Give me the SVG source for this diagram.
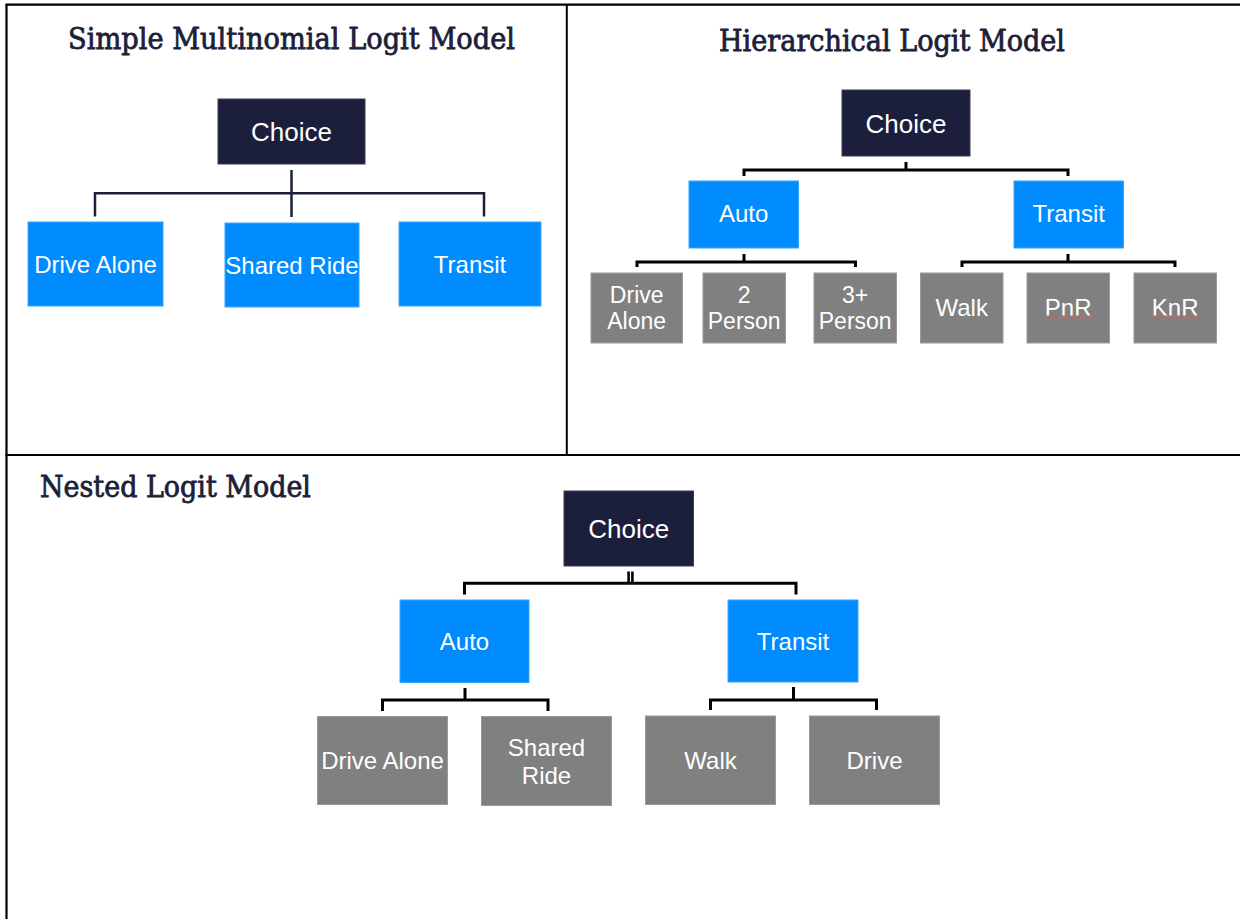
<svg xmlns="http://www.w3.org/2000/svg" width="1240" height="919" viewBox="0 0 1240 919">
<style>
.title{font-family:"DejaVu Serif","Liberation Serif",serif;font-size:29px;fill:#1c2039;stroke:#1c2039;stroke-width:0.8}
.lbl{font-family:"Liberation Sans",Arial,sans-serif;fill:#ffffff;text-anchor:middle}
.dark{fill:#1c1f3b;stroke:#3a3d55;stroke-width:1}
.blue{fill:#008cff;stroke:#3aa5ff;stroke-width:1}
.gray{fill:#808080;stroke:#9a9a9a;stroke-width:1}
.frame{stroke:#000;fill:none}
.cn{fill:none;stroke:#000;stroke-width:3}
.cnav{fill:none;stroke:#1c2039;stroke-width:2.5}
.spell{stroke:#e05a5a;stroke-width:1;fill:none}
</style>
<rect width="1240" height="919" fill="#ffffff"/>
<g id="frame">
<line class="frame" x1="5.5" y1="4.7" x2="1240" y2="4.7" stroke-width="2.2"/>
<line class="frame" x1="6.5" y1="4" x2="6.5" y2="919" stroke-width="2.2"/>
<line class="frame" x1="5.5" y1="455" x2="1240" y2="455" stroke-width="2.2"/>
<line class="frame" x1="566.8" y1="4" x2="566.8" y2="455" stroke-width="2"/>
</g>
<g id="titles">
<text class="title" x="68" y="48.5" textLength="447" lengthAdjust="spacingAndGlyphs">Simple Multinomial Logit Model</text>
<text class="title" x="719" y="50.5" textLength="346" lengthAdjust="spacingAndGlyphs">Hierarchical Logit Model</text>
<text class="title" x="40" y="496.5" textLength="271" lengthAdjust="spacingAndGlyphs">Nested Logit Model</text>
</g>
<g id="connectors">
<path class="cnav" d="M291.5 170 V217 M95 216.5 V193.3 H484 V216.5"/>
<path class="cn" d="M906 162 V170 M744 176 V170 H1068 V176"/>
<path class="cn" d="M744 254 V262 M637 267 V262 H855.5 V267"/>
<path class="cn" d="M1068 254 V262 M962 267 V262 H1175 V267"/>
<path class="cn" stroke-width="2.5" d="M464.5 594.5 V583.3 H796 V594.5"/>
<line x1="628.6" y1="571.5" x2="628.6" y2="583" stroke="#000" stroke-width="2.6"/>
<line x1="632.4" y1="571.5" x2="632.4" y2="583" stroke="#000" stroke-width="2.6"/>
<path class="cn" stroke-width="2.5" d="M465 688 V700 M382.5 711 V700 H548 V711"/>
<path class="cn" stroke-width="2.5" d="M793.5 687 V700 M710.5 710 V700 H876.5 V710"/>
</g>
<g id="mnl-choice"><rect class="dark" x="218" y="99" width="147" height="65"/><text class="lbl" x="291.5" y="141" font-size="26">Choice</text></g>
<g id="mnl-drive-alone"><rect class="blue" x="28" y="222" width="135" height="84"/><text class="lbl" x="95.5" y="272.5" font-size="24">Drive Alone</text></g>
<g id="mnl-shared-ride"><rect class="blue" x="225" y="223" width="134" height="84"/><text class="lbl" x="292" y="273.5" font-size="24">Shared Ride</text></g>
<g id="mnl-transit"><rect class="blue" x="399" y="222" width="142" height="84"/><text class="lbl" x="470" y="272.5" font-size="24">Transit</text></g>

<g id="hl-choice"><rect class="dark" x="842" y="90" width="128" height="66"/><text class="lbl" x="906" y="132.5" font-size="26">Choice</text></g>
<g id="hl-auto"><rect class="blue" x="689" y="181" width="109.5" height="67"/><text class="lbl" x="743.7" y="222" font-size="24">Auto</text></g>
<g id="hl-transit"><rect class="blue" x="1014" y="181" width="109.5" height="67"/><text class="lbl" x="1068.7" y="222" font-size="24">Transit</text></g>
<g id="hl-drive-alone"><rect class="gray" x="591" y="273" width="91.5" height="70"/><text class="lbl" font-size="23"><tspan x="636.7" y="303">Drive</tspan><tspan x="636.7" y="329">Alone</tspan></text></g>
<g id="hl-2-person"><rect class="gray" x="703" y="273" width="82.5" height="70"/><text class="lbl" font-size="23"><tspan x="744.2" y="303">2</tspan><tspan x="744.2" y="329">Person</tspan></text></g>
<g id="hl-3-person"><rect class="gray" x="814" y="273" width="82.5" height="70"/><text class="lbl" font-size="23"><tspan x="855.2" y="303">3+</tspan><tspan x="855.2" y="329">Person</tspan></text></g>
<g id="hl-walk"><rect class="gray" x="920.5" y="273" width="82.5" height="70"/><text class="lbl" x="961.7" y="315.5" font-size="24">Walk</text></g>
<g id="hl-pnr"><rect class="gray" x="1027" y="273" width="82.5" height="70"/><text class="lbl" x="1068.2" y="315.5" font-size="24">PnR</text><path class="spell" d="M1045 316 H1093"/></g>
<g id="hl-knr"><rect class="gray" x="1134" y="273" width="82.5" height="70"/><text class="lbl" x="1175.2" y="315.5" font-size="24">KnR</text><path class="spell" d="M1152 316 H1199"/></g>

<g id="nl-choice"><rect class="dark" x="564" y="491" width="129.5" height="75"/><text class="lbl" x="628.7" y="538" font-size="26">Choice</text></g>
<g id="nl-auto"><rect class="blue" x="400" y="600" width="129" height="82.5"/><text class="lbl" x="464.5" y="650" font-size="24">Auto</text></g>
<g id="nl-transit"><rect class="blue" x="728" y="600" width="130" height="82"/><text class="lbl" x="793" y="650" font-size="24">Transit</text></g>
<g id="nl-drive-alone"><rect class="gray" x="317.5" y="716.5" width="130" height="88"/><text class="lbl" x="382.5" y="769" font-size="24">Drive Alone</text></g>
<g id="nl-shared-ride"><rect class="gray" x="481.5" y="716.5" width="130" height="89"/><text class="lbl" font-size="24"><tspan x="546.5" y="756">Shared</tspan><tspan x="546.5" y="783.5">Ride</tspan></text></g>
<g id="nl-walk"><rect class="gray" x="645.5" y="716" width="130" height="88.5"/><text class="lbl" x="710.5" y="768.5" font-size="24">Walk</text></g>
<g id="nl-drive"><rect class="gray" x="809.5" y="716" width="130" height="88.5"/><text class="lbl" x="874.5" y="768.5" font-size="24">Drive</text></g>
</svg>
